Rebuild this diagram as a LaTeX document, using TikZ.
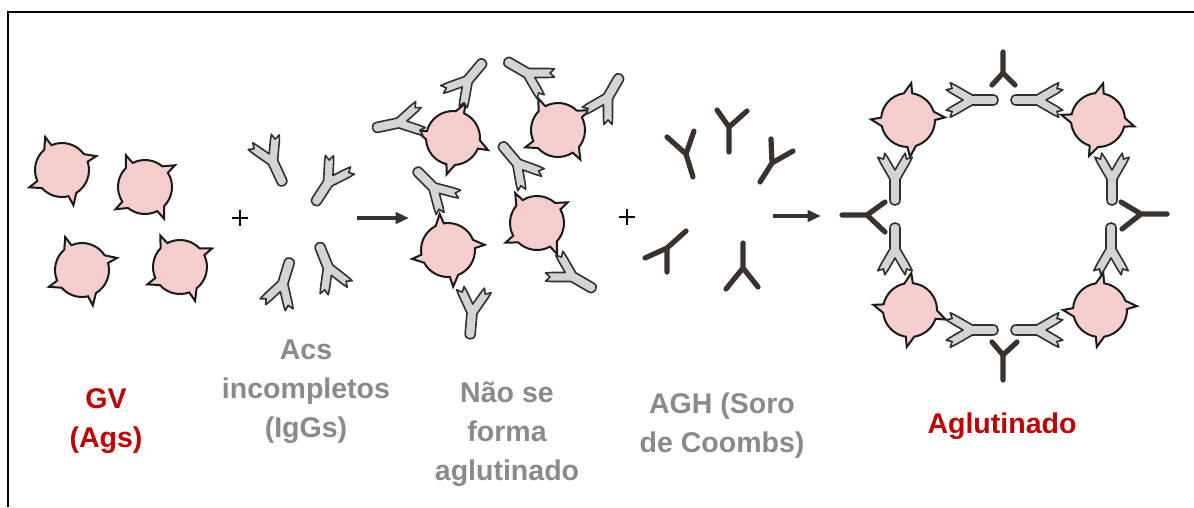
\documentclass[tikz,border=0pt]{standalone}
\usepackage{fontspec}
\setmainfont{Liberation Sans}
\usetikzlibrary{arrows.meta}
\definecolor{cellfill}{RGB}{244,206,205}
\definecolor{inkline}{RGB}{25,25,25}
\definecolor{iggfill}{RGB}{212,212,210}
\definecolor{aghink}{RGB}{58,50,46}
\definecolor{gvred}{RGB}{192,0,0}
\definecolor{lblgray}{RGB}{138,138,138}
\tikzset{
  cellbody/.style={fill=cellfill, draw=inkline, line width=1.5pt, line join=miter},
  iggbody/.style={fill=iggfill, draw=inkline!90, line width=1.2pt, line join=round},
  agh/.style={draw=aghink, line width=3.9pt, line cap=round, line join=round},
  plussign/.style={draw=black, line width=0.8pt},
  flow/.style={draw=black!80, line width=2.6pt, -{Triangle[length=10pt,width=8.5pt]}},
  lbl/.style={font=\fontsize{21.4}{29.2}\selectfont\bfseries, align=center, inner sep=0pt, anchor=base},
  % red cell with four antigen spikes (angles clockwise, increasing)
  pics/cell/.style n args={4}{code={
    \filldraw[cellbody] (#1-9:27) -- (#1+5:37) -- (#1+9:27)
      arc[start angle=#1+9, end angle=#2-9, radius=27] -- (#2+5:37) -- (#2+9:27)
      arc[start angle=#2+9, end angle=#3-9, radius=27] -- (#3+5:37) -- (#3+9:27)
      arc[start angle=#3+9, end angle=#4-9, radius=27] -- (#4+5:37) -- (#4+9:27)
      arc[start angle=#4+9, end angle=#1+351, radius=27] -- cycle;
  }},
  % incomplete IgG antibody, origin at the hinge, arms along +x
  pics/igg/.style={code={
    \filldraw[iggbody] (-21,5) -- (-0.35,5) -- (15.94,14.40) -- (21.79,17.26)
      -- (19.92,11.5) -- (25.85,10.24) -- (20.44,6.60) -- (9,0)
      -- (20.44,-6.60) -- (25.85,-10.24) -- (19.92,-11.5) -- (21.79,-17.26)
      -- (15.94,-14.40) -- (-0.35,-5) -- (-21,-5)
      .. controls (-27.7,-5) and (-27.7,5) .. (-21,5) -- cycle;
  }}
}
\begin{document}
\begin{tikzpicture}[x=0.75pt, y=-0.75pt]
\useasboundingbox (0,0) rectangle (1194,507);
\fill[white] (0,0) rectangle (1194,507);

% frame
\draw[line width=1.5pt] (8,507) -- (8,12) -- (1194,12);

% red cells with antigens
\pic at (62,170)  {cell={67}{147}{238}{333}};
\pic at (145,187) {cell={54}{138}{234}{319}};
\pic at (82,270)  {cell={68}{148}{238}{336}};
\pic at (180,267) {cell={61}{147}{233}{325}};

% plus
\coordinate (p1) at (240,218);
\draw[plussign] ([xshift=-6pt]p1) -- ([xshift=6pt]p1) ([yshift=-6pt]p1) -- ([yshift=6pt]p1);

% incomplete antibodies
\pic[rotate=115]  at (273,162) {igg};
\pic[rotate=57]   at (328,183) {igg};
\pic[rotate=-107] at (283,283) {igg};
\pic[rotate=-68]  at (328,267) {igg};

% first arrow
\coordinate (a1s) at (357,218);
\coordinate (a1e) at (409,218);
\draw[flow] (a1s) -- (a1e);

% sensitised cells without agglutination
\pic at (453,138) {cell={14}{95}{186}{285}};
\pic at (558,130) {cell={48}{147}{233}{323}};
\pic at (537,223) {cell={52}{143}{229}{321}};
\pic at (448,250) {cell={77}{161}{252}{347}};
\pic[rotate=-130] at (468,80)  {igg};
\pic[rotate=-30]  at (527,73)  {igg};
\pic[rotate=-120] at (608,97)  {igg};
\pic[rotate=12]   at (398,123) {igg};
\pic[rotate=-50]  at (517,163) {igg};
\pic[rotate=-45]  at (433,187) {igg};
\pic[rotate=85]   at (472,313) {igg};
\pic[rotate=150]  at (573,277) {igg};

% plus
\coordinate (p2) at (627,217);
\draw[plussign] ([xshift=-6pt]p2) -- ([xshift=6pt]p2) ([yshift=-6pt]p2) -- ([yshift=6pt]p2);

% anti-human globulin
\draw[agh] (729,152) -- (729,127) -- (717,110) (729,127) -- (747,111);
\draw[agh] (693,177) -- (686,154) -- (667,137) (686,154) -- (694,131);
\draw[agh] (760,182) -- (772,163) -- (771,139) (772,163) -- (793,151);
\draw[agh] (667,272) -- (667,248) -- (645,258) (667,248) -- (686,231);
\draw[agh] (743,243) -- (743,268) -- (726,289) (743,268) -- (758,287);

% second arrow
\coordinate (a2s) at (773,216);
\coordinate (a2e) at (821,216);
\draw[flow] (a2s) -- (a2e);

% agglutinate ring
\pic at (908,120)  {cell={82}{176}{270}{351}};
\pic at (1098,120) {cell={5}{99}{183}{273}};
\pic at (910,310)  {cell={10}{90}{183}{267}};
\pic at (1100,310) {cell={90}{175}{270}{349}};
\pic[rotate=180] at (972,100)  {igg};
\pic[rotate=0]   at (1037,100) {igg};
\pic[rotate=90]  at (895,179)  {igg};
\pic[rotate=-90] at (895,249)  {igg};
\pic[rotate=90]  at (1112,179) {igg};
\pic[rotate=-90] at (1111,249) {igg};
\pic[rotate=180] at (972,330)  {igg};
\pic[rotate=0]   at (1037,330) {igg};
\draw[agh] (1003,52) -- (1003,73) -- (992,85) (1003,73) -- (1015,85);
\draw[agh] (1003,380) -- (1003,355) -- (992,342) (1003,355) -- (1017,342);
\draw[agh] (842,215) -- (867,215) -- (885,202) (867,215) -- (885,232);
\draw[agh] (1167,214) -- (1141,214) -- (1121,202) (1141,214) -- (1122,229);

% labels (anchored at the baseline of the last line)
\node[lbl, text=gvred]   (lgv)  at (106,447)  {GV\\(Ags)};
\node[lbl, text=lblgray] (lacs) at (306,437)  {Acs\\incompletos\\(IgGs)};
\node[lbl, text=lblgray] (lnao) at (507,480)  {Não se\\forma\\aglutinado};
\node[lbl, text=lblgray] (lagh) at (722,452)  {AGH (Soro\\de Coombs)};
\node[lbl, text=gvred]   (lagl) at (1002,433) {Aglutinado};
\end{tikzpicture}
\end{document}
